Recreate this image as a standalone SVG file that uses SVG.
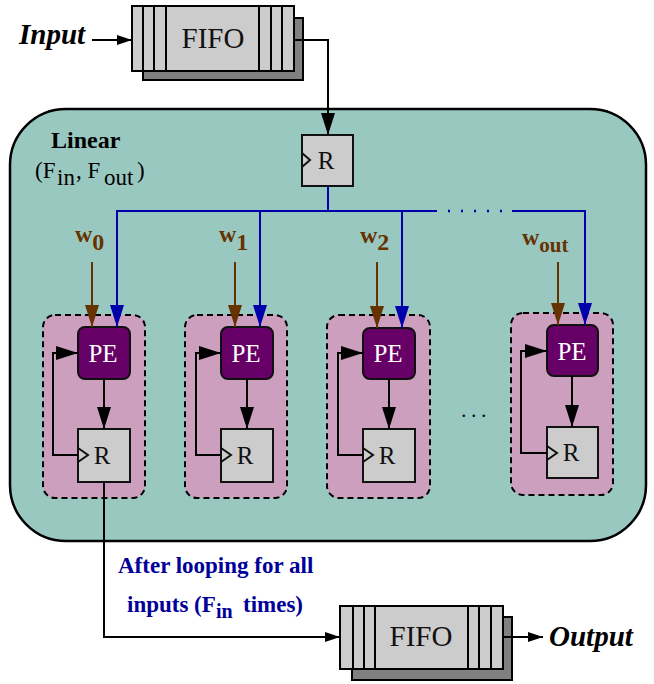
<svg xmlns="http://www.w3.org/2000/svg" width="654" height="684" viewBox="0 0 654 684" font-family="'Liberation Serif', 'DejaVu Serif', 'Times New Roman', serif">
<style>
text{font-family:'Liberation Serif','DejaVu Serif','Times New Roman',serif}
.fifo-front{fill:#cccccc;stroke:#000;stroke-width:2}
.fifo-shadow{fill:#808080;stroke:#000;stroke-width:2}
.stripe{stroke:#000;stroke-width:2}
.fifo-txt{font-size:29px;fill:#111;text-anchor:middle}
.reg{fill:#cccccc;stroke:#111;stroke-width:2}
.clk{fill:none;stroke:#111;stroke-width:2}
.reg-txt{font-size:25px;fill:#111;text-anchor:middle}
.pe{fill:#660066;stroke:#111;stroke-width:2}
.pe-txt{font-size:25px;fill:#fff;text-anchor:middle}
.cell{fill:#cc9fbe;stroke:#000;stroke-width:2;stroke-dasharray:6 4}
.blk{fill:none;stroke:#000;stroke-width:2}
.blue{fill:none;stroke:#0000aa;stroke-width:2}
.brown{fill:none;stroke:#663300;stroke-width:2}
.wlab{font-size:24px;font-weight:bold;fill:#663300}
</style>
<defs>
<marker id="ahB" markerWidth="22" markerHeight="14" refX="22" refY="7" orient="auto" markerUnits="userSpaceOnUse"><path d="M0,0 L22,7 L0,14 z" fill="#000"/></marker>
<marker id="ahS" markerWidth="15" markerHeight="10" refX="15" refY="5" orient="auto" markerUnits="userSpaceOnUse"><path d="M0,0 L15,5 L0,10 z" fill="#000"/></marker>
<marker id="ahBlue" markerWidth="22" markerHeight="14" refX="22" refY="7" orient="auto" markerUnits="userSpaceOnUse"><path d="M0,0 L22,7 L0,14 z" fill="#0000aa"/></marker>
<marker id="ahBrown" markerWidth="22" markerHeight="14" refX="22" refY="7" orient="auto" markerUnits="userSpaceOnUse"><path d="M0,0 L22,7 L0,14 z" fill="#663300"/></marker>
</defs>

<!-- Linear container -->
<g id="linear">
<rect x="10" y="109" width="636" height="432" rx="56" fill="#99c8c1" stroke="#000" stroke-width="2.5"/>
<text x="51" y="148" font-size="24" font-weight="bold">Linear</text>
<text x="35" y="178" font-size="23"><tspan x="35">(F</tspan><tspan x="57" dy="7">in</tspan><tspan x="76" dy="-7">, F</tspan><tspan x="104" dy="7">out</tspan><tspan x="137" dy="-7">)</tspan></text>
</g>

<!-- Input label -->
<g id="input-label">
<text x="19" y="44" font-size="29" font-weight="bold" font-style="italic">Input</text>
</g>

<!-- top FIFO -->
<g id="fifo-in">
<rect class="fifo-shadow" x="143" y="18" width="160" height="62"/>
<rect class="fifo-front" x="132" y="6" width="162" height="65"/>
<line class="stripe" x1="143" y1="6" x2="143" y2="71"/>
<line class="stripe" x1="154" y1="6" x2="154" y2="71"/>
<line class="stripe" x1="166" y1="6" x2="166" y2="71"/>
<line class="stripe" x1="259" y1="6" x2="259" y2="71"/>
<line class="stripe" x1="271" y1="6" x2="271" y2="71"/>
<line class="stripe" x1="282" y1="6" x2="282" y2="71"/>
<text class="fifo-txt" x="213" y="48">FIFO</text>
</g>

<!-- top register -->
<g id="reg-top">
<rect class="reg" x="302" y="135" width="51" height="51"/>
<polyline class="clk" points="302,153 310,160 302,167"/>
<text class="reg-txt" x="326" y="169">R</text>
</g>

<!-- cells -->
<g id="cell0">
<rect class="cell" x="43" y="315" width="102" height="183" rx="12"/>
<rect class="pe" x="78" y="327" width="52" height="52" rx="7"/>
<text class="pe-txt" x="103" y="362">PE</text>
<rect class="reg" x="78" y="429" width="52" height="53"/>
<polyline class="clk" points="78,448 88,455 78,462"/>
<text class="reg-txt" x="102" y="464">R</text>
</g>
<g id="cell1">
<rect class="cell" x="185" y="315" width="102" height="183" rx="12"/>
<rect class="pe" x="221" y="327" width="52" height="52" rx="7"/>
<text class="pe-txt" x="246" y="362">PE</text>
<rect class="reg" x="221" y="429" width="52" height="53"/>
<polyline class="clk" points="221,448 231,455 221,462"/>
<text class="reg-txt" x="245" y="464">R</text>
</g>
<g id="cell2">
<rect class="cell" x="327" y="315" width="103" height="183" rx="12"/>
<rect class="pe" x="363" y="328" width="52" height="51" rx="7"/>
<text class="pe-txt" x="388" y="362">PE</text>
<rect class="reg" x="363" y="429" width="52" height="53"/>
<polyline class="clk" points="363,448 373,455 363,462"/>
<text class="reg-txt" x="387" y="464">R</text>
</g>
<g id="cell3">
<rect class="cell" x="511" y="313" width="102" height="182" rx="12"/>
<rect class="pe" x="547" y="325" width="51" height="51" rx="7"/>
<text class="pe-txt" x="572" y="360">PE</text>
<rect class="reg" x="547" y="427" width="51" height="51"/>
<polyline class="clk" points="547,446 557,453 547,460"/>
<text class="reg-txt" x="571" y="461">R</text>
</g>
<g id="ellipsis">
<text x="461" y="417" font-size="22" letter-spacing="4.5" fill="#111">...</text>
</g>

<!-- weight labels -->
<g id="weights">
<text class="wlab" x="75" y="242">w<tspan dy="8">0</tspan></text>
<text class="wlab" x="219" y="242">w<tspan dy="8">1</tspan></text>
<text class="wlab" x="360" y="243">w<tspan dy="7">2</tspan></text>
<text class="wlab" x="522" y="245">w<tspan dy="7" font-size="21">out</tspan></text>
</g>

<!-- output FIFO -->
<g id="fifo-out">
<rect class="fifo-shadow" x="352" y="617" width="160" height="63"/>
<rect class="fifo-front" x="340" y="606" width="163" height="63"/>
<line class="stripe" x1="353" y1="606" x2="353" y2="669"/>
<line class="stripe" x1="364" y1="606" x2="364" y2="669"/>
<line class="stripe" x1="375" y1="606" x2="375" y2="669"/>
<line class="stripe" x1="468" y1="606" x2="468" y2="669"/>
<line class="stripe" x1="479" y1="606" x2="479" y2="669"/>
<line class="stripe" x1="491" y1="606" x2="491" y2="669"/>
<text class="fifo-txt" x="421" y="646">FIFO</text>
</g>
<g id="output-label">
<text x="549" y="646" font-size="29" font-weight="bold" font-style="italic">Output</text>
</g>
<g id="loop-note">
<text x="118" y="573" font-size="23" font-weight="bold" fill="#000099">After looping for all</text>
<text x="127" y="612" font-size="23" font-weight="bold" fill="#000099">inputs (F<tspan x="216" dy="6" font-size="20">in</tspan><tspan x="243" dy="-6">times)</tspan></text>
</g>

<!-- connectors -->
<g id="connectors">
<line class="blk" x1="92" y1="40" x2="132" y2="40" marker-end="url(#ahS)"/>
<polyline class="blk" points="294,40 328,40 328,135" marker-end="url(#ahB)"/>
<line class="blue" x1="328" y1="186" x2="328" y2="211"/>
<line class="blue" x1="116" y1="211" x2="437" y2="211"/>
<line x1="448" y1="211" x2="503" y2="211" stroke="#0000aa" stroke-width="2.5" stroke-dasharray="2 11"/>
<polyline class="blue" points="512,211 585,211 585,325" marker-end="url(#ahBlue)"/>
<line class="blue" x1="117" y1="211" x2="117" y2="327" marker-end="url(#ahBlue)"/>
<line class="blue" x1="260" y1="211" x2="260" y2="327" marker-end="url(#ahBlue)"/>
<line class="blue" x1="402" y1="211" x2="402" y2="328" marker-end="url(#ahBlue)"/>
<line class="brown" x1="92" y1="262" x2="92" y2="327" marker-end="url(#ahBrown)"/>
<line class="brown" x1="235" y1="262" x2="235" y2="327" marker-end="url(#ahBrown)"/>
<line class="brown" x1="377" y1="262" x2="377" y2="328" marker-end="url(#ahBrown)"/>
<line class="brown" x1="558" y1="262" x2="558" y2="325" marker-end="url(#ahBrown)"/>
<line class="blk" x1="104" y1="379" x2="104" y2="429" marker-end="url(#ahB)"/>
<line class="blk" x1="247" y1="379" x2="247" y2="429" marker-end="url(#ahB)"/>
<line class="blk" x1="389" y1="379" x2="389" y2="429" marker-end="url(#ahB)"/>
<line class="blk" x1="572" y1="376" x2="572" y2="427" marker-end="url(#ahB)"/>
<polyline class="blk" points="78,455 53,455 53,353 78,353" marker-end="url(#ahB)"/>
<polyline class="blk" points="221,455 196,455 196,353 221,353" marker-end="url(#ahB)"/>
<polyline class="blk" points="363,455 338,455 338,353 363,353" marker-end="url(#ahB)"/>
<polyline class="blk" points="547,453 521,453 521,351 547,351" marker-end="url(#ahB)"/>
<polyline class="blk" points="104,482 104,637 340,637" marker-end="url(#ahS)"/>
<line class="blk" x1="503" y1="637" x2="543" y2="637" marker-end="url(#ahS)"/>
</g>
</svg>
